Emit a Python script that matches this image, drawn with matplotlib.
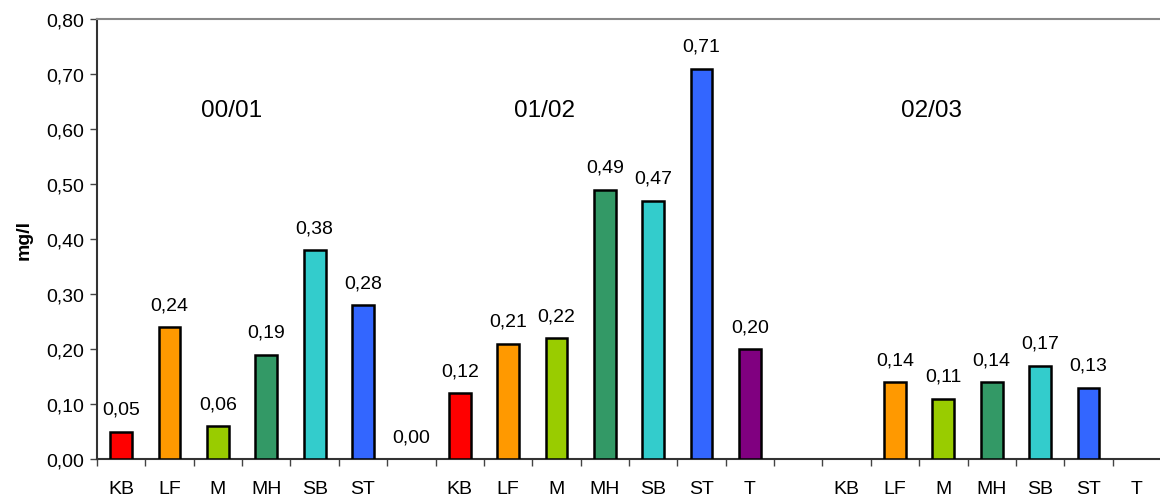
import numpy as np
import matplotlib.pyplot as plt

plt.rcParams['font.family'] = ['Liberation Sans', 'DejaVu Sans']

# categories along the x axis (blank slots separate the seasons)
categories = ["KB", "LF", "M", "MH", "SB", "ST", "",
              "KB", "LF", "M", "MH", "SB", "ST", "T", "",
              "KB", "LF", "M", "MH", "SB", "ST", "T"]
values = [0.05, 0.24, 0.06, 0.19, 0.38, 0.28, 0.00,
          0.12, 0.21, 0.22, 0.49, 0.47, 0.71, 0.20, None,
          None, 0.14, 0.11, 0.14, 0.17, 0.13, None]
seasons = ["00/01", "01/02", "02/03"]
season_pos = [2.28, 8.76, 16.75]

colors = {"KB": "#FF0000", "LF": "#FF9900", "M": "#99CC00", "MH": "#339966",
          "SB": "#33CCCC", "ST": "#3366FF", "T": "#800080", "": "#FFFFFF"}

fig = plt.figure(figsize=(11.6, 5.02), dpi=100)
ax = fig.add_axes([97 / 1160, 42 / 502, 1064 / 1160, 440 / 502])

x = np.arange(len(categories))
for i, (c, v) in enumerate(zip(categories, values)):
    if v is None:
        continue
    if v > 0:
        ax.bar(i, v, width=0.45, color=colors[c], edgecolor="black", linewidth=1.8, zorder=3)
    ax.text(i, v + 0.025, f"{v:.2f}".replace(".", ","), ha="center", va="bottom", fontsize=14)

for s, p in zip(seasons, season_pos):
    ax.text(p, 0.635, s, ha="center", va="center", fontsize=17.5)

ax.set_xlim(-0.5, len(categories) - 0.5)
ax.set_ylim(0, 0.8)
yt = np.arange(0, 0.81, 0.1)
ax.set_yticks(yt)
ax.set_yticklabels([f"{t:.2f}".replace(".", ",") for t in yt], fontsize=14)
ax.set_xticks(np.arange(-0.5, len(categories), 1.0))
ax.set_xticklabels([])
ax.set_xticks(x, minor=True)
ax.set_xticklabels(categories, minor=True, fontsize=14)
ax.tick_params(axis="x", which="major", length=5, width=1, color="#444444")
ax.tick_params(axis="x", which="minor", length=0, pad=15)
ax.tick_params(axis="y", length=5, width=1, color="#444444", pad=4)
ax.set_ylabel("mg/l", fontsize=14, fontweight="bold", labelpad=10)

for sp in ["left", "bottom"]:
    ax.spines[sp].set_color("#333333")
    ax.spines[sp].set_linewidth(1.5)
ax.spines["top"].set_color("#888888")
ax.spines["top"].set_linewidth(1.5)
ax.spines["right"].set_visible(False)

fig.savefig("out.png", dpi=100)
